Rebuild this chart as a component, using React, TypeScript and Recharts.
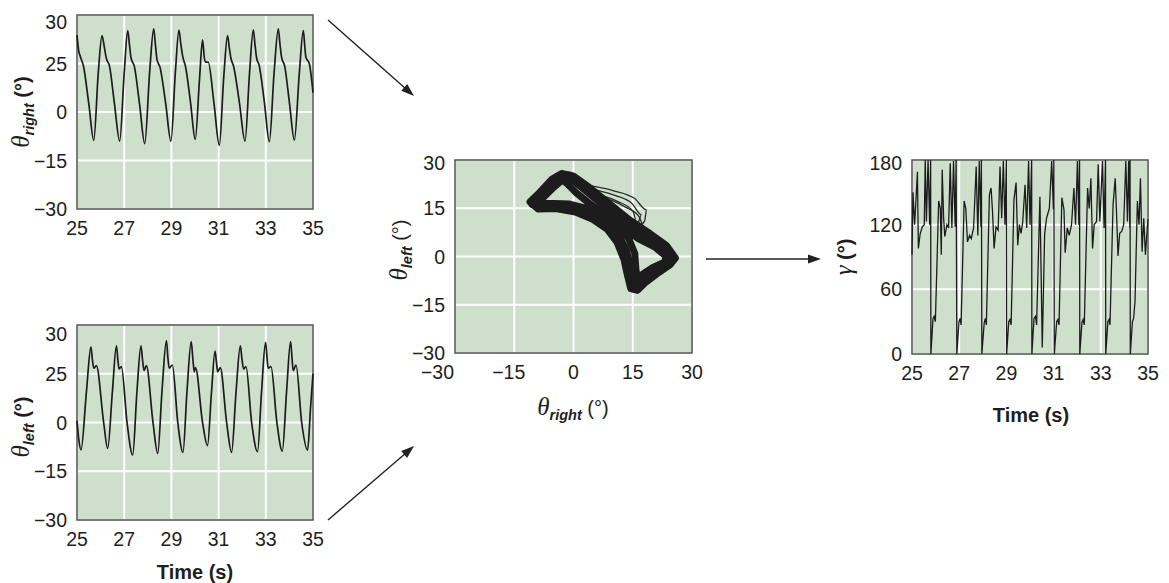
import React from 'react';
import { LineChart, Line, XAxis, YAxis, CartesianGrid, ReferenceArea } from 'recharts';

type Pt = [number, number];

// ---- axis ticks and their printed labels ----
const timeTicks = [25, 27, 29, 31, 33, 35];
const timeTickLabels = ['25', '27', '29', '31', '33', '35'];
const angleTicks = [-30, -15, 0, 15, 30];
const jointTickLabels = ['−30', '−15', '0', '25', '30'];
const phaseTickLabels = ['−30', '−15', '0', '15', '30'];
const gammaTicks = [0, 60, 120, 180];
const gammaTickLabels = ['0', '60', '120', '180'];

// ---- right joint angle, time (s) vs degrees ----
const thetaRight: Pt[] = [
  [25.0, 23.8], [25.07, 19.0], [25.14, 17.2], [25.28, 14.0], [25.5, 2.5], [25.71, -8.8],
  [25.9, 12.0], [26.06, 23.6], [26.16, 20.0], [26.24, 16.7], [26.38, 14.1], [26.58, 3.0], [26.81, -9.0],
  [27.0, 12.0], [27.15, 25.2], [27.22, 21.0], [27.29, 16.7], [27.43, 14.1], [27.65, 2.5], [27.87, -9.8],
  [28.08, 12.5], [28.25, 25.7], [28.32, 21.0], [28.39, 16.2], [28.52, 13.8], [28.76, 2.5], [28.98, -9.0],
  [29.17, 12.5], [29.32, 25.3], [29.4, 21.0], [29.48, 17.2], [29.6, 14.0], [29.81, 3.0], [30.01, -8.5],
  [30.19, 10.0], [30.32, 22.3], [30.4, 16.5], [30.46, 15.4], [30.56, 15.4], [30.8, 3.0], [31.03, -10.3],
  [31.22, 11.0], [31.38, 23.6], [31.45, 20.0], [31.52, 16.7], [31.64, 14.0], [31.88, 3.0], [32.12, -9.0],
  [32.31, 12.0], [32.47, 25.4], [32.54, 21.0], [32.61, 16.7], [32.72, 14.4], [32.94, 3.0], [33.15, -9.2],
  [33.35, 12.0], [33.53, 25.7], [33.6, 21.0], [33.67, 16.9], [33.8, 14.2], [34.0, 3.0], [34.21, -8.7],
  [34.42, 12.0], [34.59, 25.2], [34.65, 20.5], [34.7, 16.9], [34.84, 15.1], [35.0, 6.0],
];

// ---- left joint angle, time (s) vs degrees ----
const thetaLeft: Pt[] = [
  [25.0, 0.5], [25.08, -5.5], [25.17, -8.4], [25.4, 9.5], [25.59, 23.3], [25.65, 19.5], [25.71, 16.7], [25.82, 17.5], [26.13, 0.0], [26.3, -8.0],
  [26.5, 9.5], [26.67, 23.6], [26.73, 19.5], [26.78, 16.5], [26.88, 17.2], [27.12, 0.0], [27.36, -10.0],
  [27.54, 9.5], [27.71, 23.6], [27.78, 19.0], [27.84, 16.0], [27.94, 17.5], [28.22, 0.0], [28.42, -9.5],
  [28.6, 9.5], [28.79, 25.2], [28.85, 20.0], [28.91, 16.7], [29.04, 17.7], [29.27, 0.0], [29.49, -9.2],
  [29.66, 9.5], [29.84, 24.9], [29.91, 19.5], [29.97, 15.6], [30.02, 16.9], [30.32, 0.0], [30.53, -7.1],
  [30.7, 9.5], [30.85, 22.0], [30.91, 18.5], [30.96, 15.6], [31.07, 16.9], [31.34, 0.0], [31.55, -9.2],
  [31.74, 9.5], [31.92, 23.6], [31.99, 19.5], [32.06, 16.5], [32.16, 17.2], [32.4, 0.0], [32.65, -9.0],
  [32.82, 9.5], [32.99, 24.7], [33.05, 20.0], [33.1, 16.7], [33.22, 17.2], [33.47, 0.0], [33.7, -8.8],
  [33.88, 9.5], [34.05, 24.9], [34.11, 20.0], [34.16, 16.0], [34.28, 17.7], [34.52, 0.0], [34.77, -8.5],
  [34.9, 5.0], [35.0, 15.0],
];

// ---- phase angle gamma, time (s) vs degrees ----
const gamma: Pt[] = [
  [25.0, 92], [25.04, 150], [25.11, 120], [25.18, 148], [25.23, 169], [25.27, 98], [25.35, 112], [25.44, 118], [25.52, 120], [25.56, 180], [25.61, 123], [25.68, 180], [25.75, 120], [25.79, 180], [25.8, 0],
  [25.89, 33], [25.94, 35], [25.99, 30], [26.13, 142], [26.2, 135], [26.24, 92], [26.28, 171], [26.34, 126], [26.39, 109], [26.48, 120], [26.55, 117], [26.62, 177], [26.69, 117], [26.76, 179], [26.83, 118], [26.87, 180], [26.9, 0],
  [26.99, 30], [27.04, 33], [27.08, 27], [27.21, 142], [27.28, 135], [27.35, 104], [27.44, 110], [27.51, 107], [27.61, 117], [27.72, 174], [27.79, 110], [27.85, 179], [27.92, 118], [27.94, 180], [27.96, 0],
  [28.06, 29], [28.11, 33], [28.15, 27], [28.28, 148], [28.35, 154], [28.41, 133], [28.48, 98], [28.56, 118], [28.65, 115], [28.73, 174], [28.8, 126], [28.87, 179], [28.94, 120], [29.0, 180], [29.01, 0],
  [29.1, 30], [29.15, 32], [29.2, 27], [29.32, 143], [29.41, 159], [29.48, 101], [29.55, 120], [29.62, 112], [29.69, 122], [29.79, 157], [29.86, 117], [29.94, 179], [30.0, 120], [30.07, 180], [30.08, 0],
  [30.17, 33], [30.23, 35], [30.28, 27], [30.42, 146], [30.52, 6], [30.62, 111], [30.7, 126], [30.82, 135], [30.92, 179], [30.99, 134], [31.01, 180], [31.03, 0],
  [31.13, 30], [31.18, 32], [31.23, 27], [31.35, 145], [31.44, 134], [31.49, 94], [31.58, 117], [31.66, 110], [31.76, 120], [31.86, 154], [31.93, 120], [32.01, 179], [32.07, 120], [32.1, 180], [32.11, 0],
  [32.2, 29], [32.25, 32], [32.3, 27], [32.44, 154], [32.51, 135], [32.58, 163], [32.65, 98], [32.72, 120], [32.82, 123], [32.89, 176], [32.96, 123], [33.07, 179], [33.14, 117], [33.2, 180], [33.21, 0],
  [33.3, 30], [33.35, 32], [33.39, 27], [33.52, 139], [33.61, 163], [33.66, 135], [33.73, 91], [33.8, 112], [33.89, 114], [33.97, 120], [34.06, 179], [34.13, 123], [34.18, 179], [34.23, 117], [34.24, 180], [34.25, 0],
  [34.34, 30], [34.39, 33], [34.45, 49], [34.55, 142], [34.62, 120], [34.68, 163], [34.75, 95], [34.82, 126], [34.89, 92], [34.96, 114], [35.0, 125],
];

// ---- phase portrait: theta_right (x) vs theta_left (y), three strands of the dense band ----
const phaseBandOuter: Pt[] = [
  [-11, 17], [-8.5, 20], [-5.5, 24], [-3, 25.8], [0, 25], [4, 21.5], [9, 16.5], [14, 11.5], [19.5, 7], [23.5, 3.5],
  [25.8, -0.5], [24.5, -2.5], [21, -5.5], [18, -8.3], [16.2, -10.5], [14.5, -10], [13.5, -5], [12.8, -1], [11, 4.5],
  [8.5, 8.5], [5, 11.5], [0.5, 13.8], [-4.5, 14.9], [-9, 14.8], [-11, 17],
];
const phaseBandCenter: Pt[] = [
  [-10.5, 16.2], [-8, 19], [-5.5, 22.5], [-3, 25], [-1, 24.5], [2, 21.5], [6, 17.5], [10, 13], [14, 9], [18, 6],
  [22, 3], [24.8, 0.5], [25.2, -1], [23, -2.5], [20, -4.8], [17.5, -7], [15.8, -9.5], [14.8, -7], [14.3, -2],
  [13.2, 2.5], [11.2, 7], [8, 10.5], [4, 13], [0, 14.8], [-4.5, 15.6], [-8.5, 15.4], [-10.5, 16.2],
];
const phaseBandInner: Pt[] = [
  [-9.5, 16.5], [-7.5, 18.5], [-5, 21.5], [-2.8, 23.8], [-1.5, 22.5], [0.5, 20], [3.5, 17], [8, 13], [12.5, 9],
  [16.5, 5.5], [20.5, 3], [23.5, 0], [23, -1.8], [20, -3.5], [17.5, -5.5], [16.3, -7.5], [15.8, -4], [15.5, 1],
  [14, 5.5], [11, 9.5], [7, 12.5], [3, 15], [-1, 16.3], [-5, 16.5], [-9.5, 16.5],
];
// sparse excursions above the band
const phaseStrayA: Pt[] = [[-1, 24.2], [4, 22.2], [10, 20.5], [15.5, 18], [18.5, 14.5], [18, 11], [16, 9]];
const phaseStrayB: Pt[] = [[0, 23.2], [5, 21], [10.5, 19], [14.8, 16.5], [17.2, 13], [16.2, 10], [14, 9.5]];
const phaseStrayC: Pt[] = [[1, 22], [6, 19.5], [11, 17.2], [15, 14.2], [15.8, 11.5], [13, 10.5]];
const phaseStrayD: Pt[] = [[-5.5, 21], [-3.5, 26], [-1, 26.2], [2, 23.5]];
const phaseStrayE: Pt[] = [[3, 20.5], [8, 18.2], [12.8, 15.6], [16.6, 12.4], [17.6, 9.8], [15, 8]];

// ---- styling ----
const PANEL_BG = '#cee0cc';
const GRID = '#ffffff';
const FRAME = '#505050';
const INK = '#1c1c1c';
const TEXT = '#1e1e1e';
const SANS = "'Liberation Sans', Arial, Helvetica, sans-serif";
const SERIF = "'Liberation Serif', 'DejaVu Serif', serif";
const TICK_SIZE = 19.5;

const toRows = (pts: Pt[]) => pts.map(([x, y]) => ({ x, y }));

function yTick(values: number[], labels: string[], topNudge: number) {
  return (p: any) => {
    const v = p.payload.value;
    const i = values.indexOf(v);
    const isTop = v === values[values.length - 1];
    return (
      <text x={p.x} y={p.y + (isTop ? topNudge : 0)} dy="0.36em" textAnchor="end" fontSize={TICK_SIZE} fontFamily={SANS} fill={TEXT}>
        {labels[i] ?? String(v)}
      </text>
    );
  };
}

function xTick(values: number[], labels: string[], firstFlush = false) {
  return (p: any) => {
    const v = p.payload.value;
    const i = values.indexOf(v);
    const label = labels[i] ?? String(v);
    let x = p.x;
    let anchor: 'middle' | 'end' = 'middle';
    if (firstFlush && i === 0) {
      anchor = 'end';
      x = p.x - 1;
    } else if (label.startsWith('−')) {
      x = p.x - 5.5;
    }
    return (
      <text x={x} y={p.y} dy="0.72em" textAnchor={anchor} fontSize={TICK_SIZE} fontFamily={SANS} fill={TEXT}>
        {label}
      </text>
    );
  };
}

function SymbolTitle({ cx, cy, symbol, sub, rotate, boldUnit }: { cx: number; cy: number; symbol: string; sub?: string; rotate?: boolean; boldUnit?: boolean }) {
  return (
    <text
      x={cx}
      y={cy + 7}
      textAnchor="middle"
      fill={TEXT}
      style={{ whiteSpace: 'pre' }}
      transform={rotate ? `rotate(-90 ${cx} ${cy})` : undefined}
    >
      <tspan fontFamily={SERIF} fontStyle="italic" fontSize={25}>{symbol}</tspan>
      {sub ? (
        <tspan fontFamily={SANS} fontStyle="italic" fontWeight="bold" fontSize={14.5} dy={5}>{sub}</tspan>
      ) : null}
      <tspan fontFamily={SANS} fontWeight={boldUnit ? 'bold' : 'normal'} fontSize={20} dy={sub ? -5 : 0}>{' (°)'}</tspan>
    </text>
  );
}

function TimeTitle({ cx, cy }: { cx: number; cy: number }) {
  return (
    <text x={cx} y={cy + 7} textAnchor="middle" fontFamily={SANS} fontWeight="bold" fontSize={20} fill={TEXT}>
      Time (s)
    </text>
  );
}

function JointPanel({ series, sub, top, height, withTime, titleY, topNudge }: { series: Pt[]; sub: string; top: number; height: number; withTime: boolean; titleY: number; topNudge: number }) {
  const plotH = top === 0 ? 194 : 195;
  return (
    <div style={{ position: 'absolute', left: 0, top, width: 330, height }}>
      <LineChart width={330} height={height} data={toRows(series)} margin={{ top: 15, right: 17, bottom: 0, left: 0 }}>
        <CartesianGrid fill={PANEL_BG} fillOpacity={1} stroke={GRID} strokeWidth={2} />
        <XAxis
          dataKey="x"
          type="number"
          domain={[25, 35]}
          ticks={timeTicks}
          interval={0}
          height={height - 15 - plotH}
          axisLine={false}
          tickLine={false}
          tickSize={0}
          tickMargin={12}
          tick={xTick(timeTicks, timeTickLabels)}
          label={withTime ? { content: () => <TimeTitle cx={195} cy={262} /> } : undefined}
        />
        <YAxis
          type="number"
          domain={[-30, 30]}
          ticks={angleTicks}
          interval={0}
          width={77}
          axisLine={false}
          tickLine={false}
          tickSize={0}
          tickMargin={10}
          tick={yTick(angleTicks, jointTickLabels, topNudge)}
          label={{ content: () => <SymbolTitle cx={22} cy={titleY} symbol="θ" sub={sub} rotate boldUnit /> }}
        />
        <Line dataKey="y" type="monotone" stroke={INK} strokeWidth={1.7} dot={false} isAnimationActive={false} />
        <ReferenceArea x1={25} x2={35} y1={-30} y2={30} fill="none" stroke={FRAME} strokeWidth={1.5} />
      </LineChart>
    </div>
  );
}

function PhasePanel() {
  const strays = [phaseStrayA, phaseStrayB, phaseStrayC, phaseStrayD, phaseStrayE];
  const bands = [phaseBandOuter, phaseBandInner, phaseBandCenter];
  return (
    <div style={{ position: 'absolute', left: 380, top: 140, width: 330, height: 290 }}>
      <LineChart width={330} height={290} margin={{ top: 20, right: 18, bottom: 0, left: 0 }}>
        <CartesianGrid fill={PANEL_BG} fillOpacity={1} stroke={GRID} strokeWidth={2} />
        <XAxis
          dataKey="x"
          type="number"
          domain={[-30, 30]}
          ticks={angleTicks}
          interval={0}
          height={77}
          allowDataOverflow
          axisLine={false}
          tickLine={false}
          tickSize={0}
          tickMargin={12}
          tick={xTick(angleTicks, phaseTickLabels, true)}
          label={{ content: () => <SymbolTitle cx={193} cy={268} symbol="θ" sub="right" /> }}
        />
        <YAxis
          type="number"
          domain={[-30, 30]}
          ticks={angleTicks}
          interval={0}
          width={75}
          allowDataOverflow
          axisLine={false}
          tickLine={false}
          tickSize={0}
          tickMargin={10}
          tick={yTick(angleTicks, phaseTickLabels, 2.5)}
          label={{ content: () => <SymbolTitle cx={20} cy={110} symbol="θ" sub="left" rotate /> }}
        />
        {strays.map((s, k) => (
          <Line key={`stray-${k}`} data={toRows(s)} dataKey="y" type="monotone" stroke="#2a2a2a" strokeWidth={1.3} dot={false} isAnimationActive={false} />
        ))}
        {bands.map((b, k) => (
          <Line
            key={`band-${k}`}
            data={toRows(b)}
            dataKey="y"
            type="linear"
            stroke={INK}
            strokeWidth={7}
            strokeLinejoin="round"
            strokeLinecap="round"
            dot={false}
            isAnimationActive={false}
          />
        ))}
        <ReferenceArea x1={-30} x2={30} y1={-30} y2={30} fill="none" stroke={FRAME} strokeWidth={1.5} />
      </LineChart>
    </div>
  );
}

function GammaPanel() {
  return (
    <div style={{ position: 'absolute', left: 830, top: 140, width: 339, height: 300 }}>
      <LineChart width={339} height={300} data={toRows(gamma)} margin={{ top: 20, right: 21, bottom: 0, left: 0 }}>
        <CartesianGrid fill={PANEL_BG} fillOpacity={1} stroke={GRID} strokeWidth={2} />
        <XAxis
          dataKey="x"
          type="number"
          domain={[25, 35]}
          ticks={timeTicks}
          interval={0}
          height={86}
          axisLine={false}
          tickLine={false}
          tickSize={0}
          tickMargin={12}
          tick={xTick(timeTicks, timeTickLabels)}
          label={{ content: () => <TimeTitle cx={201} cy={275} /> }}
        />
        <YAxis
          type="number"
          domain={[0, 180]}
          ticks={gammaTicks}
          interval={0}
          width={82}
          axisLine={false}
          tickLine={false}
          tickSize={0}
          tickMargin={10}
          tick={yTick(gammaTicks, gammaTickLabels, 3)}
          label={{ content: () => <SymbolTitle cx={15} cy={117} symbol="γ" rotate boldUnit /> }}
        />
        <Line dataKey="y" type="linear" stroke={INK} strokeWidth={1.3} dot={false} isAnimationActive={false} />
        <ReferenceArea x1={25} x2={35} y1={0} y2={180} fill="none" stroke={FRAME} strokeWidth={1.5} />
      </LineChart>
    </div>
  );
}

function Arrow({ from, to }: { from: [number, number]; to: [number, number] }) {
  const [x1, y1] = from;
  const [x2, y2] = to;
  const len = Math.hypot(x2 - x1, y2 - y1);
  const ux = (x2 - x1) / len;
  const uy = (y2 - y1) / len;
  const head = 13;
  const half = 4.5;
  const bx = x2 - ux * head;
  const by = y2 - uy * head;
  const pts = `${x2},${y2} ${bx - uy * half},${by + ux * half} ${bx + uy * half},${by - ux * half}`;
  return (
    <g>
      <line x1={x1} y1={y1} x2={bx + ux * 2} y2={by + uy * 2} stroke="#222" strokeWidth={1.4} />
      <polygon points={pts} fill="#222" />
    </g>
  );
}

export default function App() {
  return (
    <div style={{ position: 'absolute', left: 0, top: 0, width: 1169, height: 583, background: '#ffffff', fontFamily: SANS, overflow: 'hidden' }}>
      <JointPanel series={thetaRight} sub="right" top={0} height={250} withTime={false} titleY={112} topNudge={7} />
      <JointPanel series={thetaLeft} sub="left" top={310} height={273} withTime titleY={117} topNudge={9} />
      <PhasePanel />
      <GammaPanel />
      <svg width={1169} height={583} style={{ position: 'absolute', left: 0, top: 0, pointerEvents: 'none' }}>
        <Arrow from={[328, 20]} to={[414, 96]} />
        <Arrow from={[328, 520]} to={[414, 446]} />
        <Arrow from={[706, 259]} to={[821, 259]} />
      </svg>
    </div>
  );
}
